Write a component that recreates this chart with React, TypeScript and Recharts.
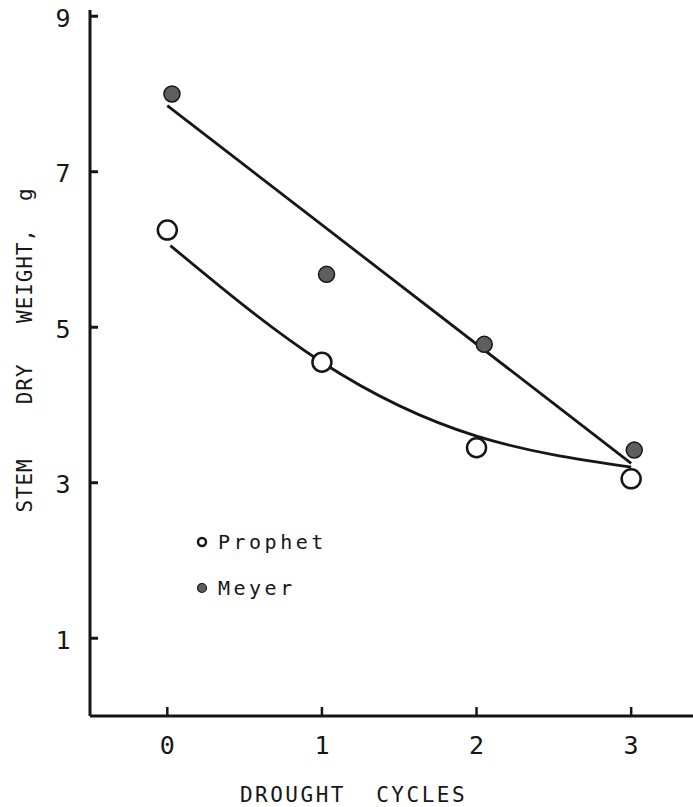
import React from 'react';
import {
  ComposedChart,
  Line,
  Scatter,
  XAxis,
  YAxis,
  Legend,
  Label,
} from 'recharts';

// Observed stem dry weight (g) by number of drought cycles
const prophetPoints = [
  { x: 0, y: 6.25 },
  { x: 1, y: 4.55 },
  { x: 2, y: 3.45 },
  { x: 3, y: 3.05 },
];

const meyerPoints = [
  { x: 0.03, y: 8.0 },
  { x: 1.03, y: 5.68 },
  { x: 2.05, y: 4.78 },
  { x: 3.02, y: 3.42 },
];

// Fitted curves drawn through the observations
const prophetFit = [
  { x: 0.02, y: 6.05 },
  { x: 1, y: 4.55 },
  { x: 2, y: 3.6 },
  { x: 3, y: 3.2 },
];

const meyerFit = [
  { x: 0, y: 7.85 },
  { x: 3, y: 3.25 },
];

const xTicks = [0, 1, 2, 3];
const yTicks = [1, 3, 5, 7, 9];

const FONT = '"DejaVu Sans Mono", "Liberation Mono", monospace';
const INK = '#161616';

const YTick = (props: any) => {
  const { x, y, payload } = props;
  return (
    <g>
      <line x1={x} y1={y} x2={x + 8} y2={y} stroke={INK} strokeWidth={3} />
      <text x={x - 27} y={y + 2} textAnchor="middle" dominantBaseline="central" fontFamily={FONT} fontSize={25} fill={INK}>
        {payload.value}
      </text>
    </g>
  );
};

const XTick = (props: any) => {
  const { x, y, payload } = props;
  return (
    <g>
      <line x1={x} y1={y} x2={x} y2={y - 9} stroke={INK} strokeWidth={2.5} />
      <text x={x} y={y + 29} textAnchor="middle" dominantBaseline="central" fontFamily={FONT} fontSize={25} fill={INK}>
        {payload.value}
      </text>
    </g>
  );
};

// axis titles, placed from the axis viewBox
const XTitle = (props: any) => {
  const { viewBox } = props;
  const cx = viewBox.x + viewBox.width / 2 - 38;
  return (
    <text
      x={cx}
      y={viewBox.y + viewBox.height - 5}
      textAnchor="middle"
      fontFamily={FONT}
      fontSize={21}
      letterSpacing={2.5}
      fill={INK}
      style={{ whiteSpace: 'pre' }}
    >
      {'DROUGHT  CYCLES'}
    </text>
  );
};

const YTitle = (props: any) => {
  const { viewBox } = props;
  const x = viewBox.x + 25;
  const y = viewBox.y + viewBox.height / 2 - 13;
  return (
    <text
      x={x}
      y={y}
      transform={`rotate(-90, ${x}, ${y})`}
      textAnchor="middle"
      dominantBaseline="central"
      fontFamily={FONT}
      fontSize={21}
      letterSpacing={0.9}
      fill={INK}
      style={{ whiteSpace: 'pre' }}
    >
      {'STEM    DRY   WEIGHT,  g'}
    </text>
  );
};

const OpenDot = (props: any) => {
  const { cx, cy } = props;
  return <circle cx={cx} cy={cy} r={9.5} fill="#fff" stroke={INK} strokeWidth={2.5} />;
};

const FilledDot = (props: any) => {
  const { cx, cy } = props;
  return <circle cx={cx} cy={cy} r={8} fill="#5e5e5e" stroke={INK} strokeWidth={1.5} />;
};

const LegendBox = () => (
  <div style={{ fontFamily: FONT, fontSize: 20, letterSpacing: 3.5, color: INK, lineHeight: '46px' }}>
    <div style={{ display: 'flex', alignItems: 'center' }}>
      <svg width={12} height={12} style={{ marginRight: 10 }}>
        <circle cx={6} cy={6} r={4} fill="#fff" stroke={INK} strokeWidth={2.5} />
      </svg>
      Prophet
    </div>
    <div style={{ display: 'flex', alignItems: 'center' }}>
      <svg width={12} height={12} style={{ marginRight: 10 }}>
        <circle cx={6} cy={6} r={4.5} fill="#5e5e5e" stroke={INK} strokeWidth={1.2} />
      </svg>
      Meyer
    </div>
  </div>
);

export default function App() {
  return (
    <div style={{ position: 'absolute', left: 0, top: 0, background: '#fff' }}>
      <ComposedChart width={693} height={807} margin={{ top: 10, right: 0, bottom: 0, left: 0 }}>
        <XAxis
          type="number"
          dataKey="x"
          domain={[-0.5, 3.4]}
          ticks={xTicks}
          tick={<XTick />}
          tickLine={false}
          tickSize={0}
          tickMargin={0}
          height={91}
          axisLine={{ stroke: INK, strokeWidth: 3 }}
          allowDataOverflow
        >
          <Label content={<XTitle />} />
        </XAxis>
        <YAxis
          type="number"
          domain={[0, 9.08]}
          ticks={yTicks}
          tick={<YTick />}
          tickLine={false}
          tickSize={0}
          tickMargin={0}
          width={90}
          axisLine={{ stroke: INK, strokeWidth: 3 }}
          allowDataOverflow
        >
          <Label content={<YTitle />} />
        </YAxis>
        <Line
          data={meyerFit}
          dataKey="y"
          type="linear"
          stroke={INK}
          strokeWidth={2.8}
          dot={false}
          activeDot={false}
          isAnimationActive={false}
          legendType="none"
        />
        <Line
          data={prophetFit}
          dataKey="y"
          type="natural"
          stroke={INK}
          strokeWidth={2.8}
          dot={false}
          activeDot={false}
          isAnimationActive={false}
          legendType="none"
        />
        <Scatter data={prophetPoints} dataKey="y" name="Prophet" shape={<OpenDot />} isAnimationActive={false} />
        <Scatter data={meyerPoints} dataKey="y" name="Meyer" shape={<FilledDot />} isAnimationActive={false} />
        <Legend
          content={<LegendBox />}
          layout="vertical"
          align="center"
          verticalAlign="middle"
          wrapperStyle={{ position: 'absolute', left: 196, top: 519, width: 'auto', bottom: 'auto' }}
        />
      </ComposedChart>
    </div>
  );
}
